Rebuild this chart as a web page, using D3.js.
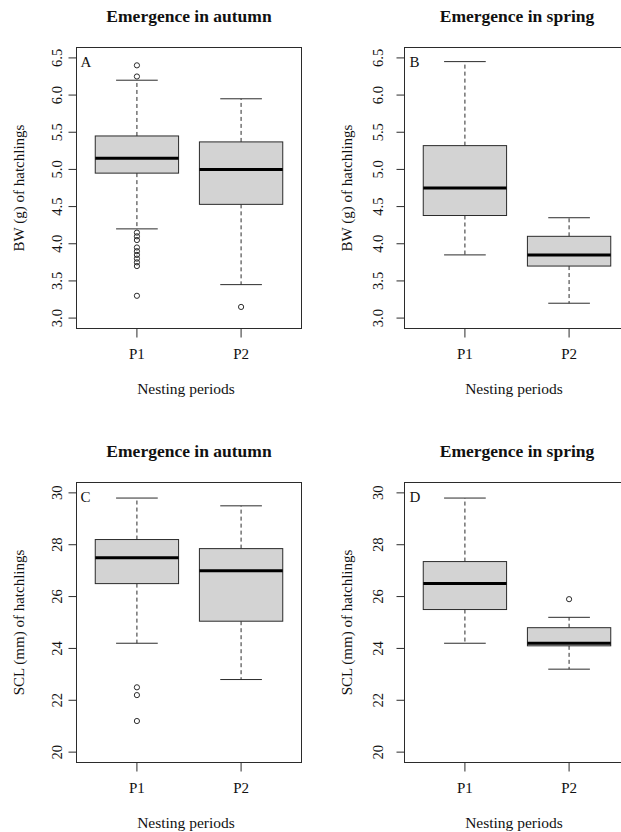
<!DOCTYPE html>
<html>
<head>
<meta charset="utf-8">
<script src="https://cdn.jsdelivr.net/npm/d3@7"></script>
<style>
  html, body { margin: 0; padding: 0; background: #fff; }
  svg { display: block; }
  text { font-family: "Liberation Serif", "DejaVu Serif", serif; fill: #111; }
</style>
</head>
<body>
<svg id="chart" width="621" height="832"></svg>
<script>
// ---- data ----
const categories = ["P1", "P2"];
// [lower whisker, Q1, median, Q3, upper whisker]
const bwAutumnStats = [[4.2, 4.95, 5.15, 5.45, 6.2], [3.45, 4.53, 5.0, 5.37, 5.95]];
const bwAutumnOutliers = [[6.4, 6.25, 4.15, 4.1, 4.05, 3.95, 3.9, 3.85, 3.8, 3.75, 3.7, 3.3], [3.15]];
const bwSpringStats = [[3.85, 4.38, 4.75, 5.32, 6.45], [3.2, 3.7, 3.85, 4.1, 4.35]];
const bwSpringOutliers = [[], []];
const sclAutumnStats = [[24.2, 26.5, 27.5, 28.2, 29.8], [22.8, 25.05, 27.0, 27.85, 29.5]];
const sclAutumnOutliers = [[22.5, 22.2, 21.2], []];
const sclSpringStats = [[24.2, 25.5, 26.5, 27.35, 29.8], [23.2, 24.1, 24.2, 24.8, 25.2]];
const sclSpringOutliers = [[], [25.9]];
const bwTicks = [3.0, 3.5, 4.0, 4.5, 5.0, 5.5, 6.0, 6.5];
const sclTicks = [20, 22, 24, 26, 28, 30];
const bwLimits = [3.0, 6.5];
const sclLimits = [20, 30];
const titles = ["Emergence in autumn", "Emergence in spring", "Emergence in autumn", "Emergence in spring"];
const panelLetters = ["A", "B", "C", "D"];
const yLabels = ["BW (g) of hatchlings", "BW (g) of hatchlings", "SCL (mm) of hatchlings", "SCL (mm) of hatchlings"];
const xLabel = "Nesting periods";

const panels = [
  { stats: bwAutumnStats, out: bwAutumnOutliers, ticks: bwTicks, lim: bwLimits, fmt: d3.format(".1f"), left: 76.5, right: 301.5, top: 47.5, bottom: 328.5, tickGap: 15 },
  { stats: bwSpringStats, out: bwSpringOutliers, ticks: bwTicks, lim: bwLimits, fmt: d3.format(".1f"), left: 404.5, right: 629.5, top: 47.5, bottom: 328.5, tickGap: 22 },
  { stats: sclAutumnStats, out: sclAutumnOutliers, ticks: sclTicks, lim: sclLimits, fmt: d3.format("d"), left: 76.5, right: 301.5, top: 482.5, bottom: 762.5, tickGap: 15 },
  { stats: sclSpringStats, out: sclSpringOutliers, ticks: sclTicks, lim: sclLimits, fmt: d3.format("d"), left: 404.5, right: 629.5, top: 482.5, bottom: 762.5, tickGap: 22 }
];

const FONT = "Liberation Serif, DejaVu Serif, serif";
const svg = d3.select("#chart");
const stroke = "#2b2b2b";

panels.forEach((p, i) => {
  const ext = (p.lim[1] - p.lim[0]) * 0.04;
  const y = d3.scaleLinear().domain([p.lim[0] - ext, p.lim[1] + ext]).range([p.bottom, p.top]);
  const x = d3.scaleLinear().domain([0.42, 2.58]).range([p.left, p.right]);
  const unit = x(2) - x(1);
  const g = svg.append("g").attr("font-family", FONT);

  // title
  g.append("text")
    .attr("x", (p.left + p.right) / 2)
    .attr("y", p.top - 26)
    .attr("text-anchor", "middle")
    .attr("font-weight", "bold")
    .attr("font-size", 17.5)
    .text(titles[i]);

  // boxes
  p.stats.forEach((s, k) => {
    const cx = x(k + 1);
    const hw = unit * 0.4;
    const cap = unit * 0.2;
    g.append("line").attr("x1", cx).attr("x2", cx).attr("y1", y(s[3])).attr("y2", y(s[4]))
      .attr("stroke", stroke).attr("stroke-dasharray", "4,3");
    g.append("line").attr("x1", cx).attr("x2", cx).attr("y1", y(s[1])).attr("y2", y(s[0]))
      .attr("stroke", stroke).attr("stroke-dasharray", "4,3");
    g.append("line").attr("x1", cx - cap).attr("x2", cx + cap).attr("y1", y(s[4])).attr("y2", y(s[4]))
      .attr("stroke", stroke);
    g.append("line").attr("x1", cx - cap).attr("x2", cx + cap).attr("y1", y(s[0])).attr("y2", y(s[0]))
      .attr("stroke", stroke);
    g.append("rect").attr("x", cx - hw).attr("width", hw * 2)
      .attr("y", y(s[3])).attr("height", y(s[1]) - y(s[3]))
      .attr("fill", "#d3d3d3").attr("stroke", stroke);
    g.append("line").attr("x1", cx - hw).attr("x2", cx + hw).attr("y1", y(s[2])).attr("y2", y(s[2]))
      .attr("stroke", "#000").attr("stroke-width", 3);
    p.out[k].forEach(v => {
      g.append("circle").attr("cx", cx).attr("cy", y(v)).attr("r", 2.6)
        .attr("fill", "none").attr("stroke", stroke).attr("stroke-width", 1);
    });
  });

  // frame
  g.append("rect").attr("x", p.left).attr("y", p.top)
    .attr("width", p.right - p.left).attr("height", p.bottom - p.top)
    .attr("fill", "none").attr("stroke", stroke);

  // y axis
  p.ticks.forEach(t => {
    g.append("line").attr("x1", p.left - 8).attr("x2", p.left).attr("y1", y(t)).attr("y2", y(t))
      .attr("stroke", stroke);
    g.append("text")
      .attr("transform", `translate(${p.left - p.tickGap},${y(t)}) rotate(-90)`)
      .attr("text-anchor", "middle")
      .attr("font-size", 14.5)
      .text(p.fmt(t));
  });

  // x axis
  categories.forEach((c, k) => {
    const cx = x(k + 1);
    g.append("line").attr("x1", cx).attr("x2", cx).attr("y1", p.bottom).attr("y2", p.bottom + 9)
      .attr("stroke", stroke);
    g.append("text").attr("x", cx).attr("y", p.bottom + 30)
      .attr("text-anchor", "middle").attr("font-size", 15).text(c);
  });

  g.append("text").attr("x", (p.left + p.right) / 2 - 3).attr("y", p.bottom + 65)
    .attr("text-anchor", "middle").attr("font-size", 15.5).text(xLabel);

  g.append("text")
    .attr("transform", `translate(${p.left - 53},${(p.top + p.bottom) / 2}) rotate(-90)`)
    .attr("text-anchor", "middle")
    .attr("font-size", 15)
    .text(yLabels[i]);

  g.append("text").attr("x", p.left + (i % 2 === 0 ? 4 : 5)).attr("y", p.top + 19)
    .attr("font-size", 15).text(panelLetters[i]);
});
</script>
</body>
</html>
